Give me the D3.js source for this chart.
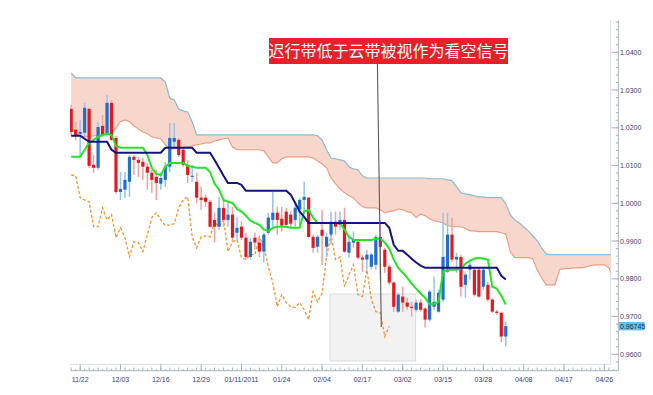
<!DOCTYPE html>
<html><head><meta charset="utf-8">
<script src="https://cdn.jsdelivr.net/npm/d3@7"></script>
<style>html,body{margin:0;padding:0;background:#fff;} svg{display:block;}</style>
</head><body>
<svg id="chart" width="653" height="395"></svg>
<script>
// ---------- DATA ----------
const openP = [
1.0250,1.0195,1.0184,1.0187,1.0250,1.0102,1.0094,1.0205,1.0181,1.0266,
1.0173,1.0030,1.0036,1.0057,1.0123,1.0115,1.0110,1.0097,1.0081,1.0070,
1.0052,1.0062,1.0097,1.0163,1.0168,1.0142,1.0102,1.0070,1.0057,1.0015,
1.0015,1.0004,0.9956,0.9938,0.9988,0.9956,0.9970,0.9922,0.9938,0.9909,
0.9858,0.9909,0.9896,0.9872,0.9922,0.9956,0.9975,0.9959,0.9978,0.9970,
0.9956,0.9983,1.0009,1.0015,0.9911,0.9885,0.9930,0.9885,0.9917,0.9951,
0.9943,0.9956,0.9869,0.9896,0.9898,0.9856,0.9851,0.9832,0.9837,0.9911,
0.9877,0.9832,0.9790,0.9713,0.9753,0.9737,0.9726,0.9718,0.9737,0.9721,
0.9692,0.9726,0.9713,0.9745,0.9819,0.9917,0.9851,0.9858,0.9784,0.9824,
0.9824,0.9824,0.9779,0.9784,0.9745,0.9713,0.9710,0.9647];
const highP = [
1.0261,1.0216,1.0221,1.0266,1.0253,1.0128,1.0216,1.0234,1.0287,1.0274,
1.0179,1.0083,1.0083,1.0128,1.0128,1.0123,1.0120,1.0107,1.0089,1.0089,
1.0081,1.0110,1.0213,1.0213,1.0173,1.0147,1.0115,1.0102,1.0081,1.0044,
1.0023,1.0009,0.9975,1.0017,1.0009,1.0001,0.9991,0.9964,0.9951,0.9922,
0.9909,0.9922,0.9911,0.9922,0.9975,1.0030,0.9991,0.9991,0.9988,0.9978,
1.0001,1.0015,1.0057,1.0017,0.9917,0.9917,0.9983,0.9922,0.9978,0.9978,
0.9978,0.9988,0.9911,0.9925,0.9903,0.9864,0.9877,0.9869,0.9917,0.9956,
0.9882,0.9837,0.9793,0.9763,0.9779,0.9750,0.9739,0.9745,0.9745,0.9724,
0.9771,0.9806,0.9771,0.9975,0.9975,0.9962,0.9869,0.9864,0.9816,0.9845,
0.9829,0.9829,0.9829,0.9792,0.9750,0.9718,0.9713,0.9686];
const lowP = [
1.0179,1.0168,1.0123,1.0176,1.0094,1.0081,1.0089,1.0176,1.0176,1.0165,
1.0025,1.0009,1.0015,1.0017,1.0075,1.0070,1.0062,1.0036,1.0028,1.0009,
1.0036,1.0044,1.0083,1.0149,1.0123,1.0097,1.0054,1.0057,1.0001,0.9983,
0.9991,0.9935,0.9896,0.9930,0.9938,0.9938,0.9898,0.9903,0.9903,0.9851,
0.9851,0.9877,0.9858,0.9843,0.9917,0.9930,0.9917,0.9925,0.9935,0.9935,
0.9938,0.9943,0.9975,0.9909,0.9869,0.9869,0.9837,0.9858,0.9890,0.9917,
0.9930,0.9869,0.9856,0.9882,0.9851,0.9819,0.9824,0.9824,0.9824,0.9798,
0.9816,0.9784,0.9713,0.9710,0.9713,0.9718,0.9700,0.9713,0.9713,0.9671,
0.9687,0.9718,0.9710,0.9739,0.9816,0.9845,0.9816,0.9753,0.9750,0.9798,
0.9753,0.9750,0.9771,0.9739,0.9710,0.9705,0.9631,0.9620];
const closeP = [
1.0189,1.0181,1.0189,1.0253,1.0099,1.0094,1.0202,1.0181,1.0266,1.0168,
1.0030,1.0038,1.0062,1.0123,1.0115,1.0107,1.0097,1.0081,1.0062,1.0054,
1.0067,1.0097,1.0173,1.0173,1.0128,1.0102,1.0075,1.0073,1.0015,1.0009,
1.0004,0.9938,0.9938,0.9988,0.9956,0.9970,0.9909,0.9935,0.9909,0.9858,
0.9898,0.9896,0.9872,0.9917,0.9962,0.9975,0.9956,0.9941,0.9943,0.9946,
0.9988,1.0009,1.0017,0.9911,0.9882,0.9911,0.9914,0.9911,0.9951,0.9938,
0.9956,0.9872,0.9898,0.9903,0.9856,0.9851,0.9864,0.9864,0.9911,0.9885,
0.9832,0.9790,0.9726,0.9758,0.9737,0.9726,0.9724,0.9737,0.9718,0.9692,
0.9766,0.9739,0.9763,0.9858,0.9917,0.9851,0.9858,0.9779,0.9811,0.9837,
0.9758,0.9753,0.9824,0.9745,0.9713,0.9710,0.9647,0.96745];
const tenkan = [
1.0123,1.0123,1.0123,1.0142,1.0160,1.0168,1.0176,1.0181,1.0184,1.0181,
1.0152,1.0147,1.0147,1.0147,1.0147,1.0147,1.0147,1.0128,1.0094,1.0078,
1.0075,1.0097,1.0107,1.0107,1.0107,1.0107,1.0099,1.0097,1.0094,1.0094,
1.0094,1.0083,1.0052,1.0036,1.0009,1.0004,1.0001,0.9985,0.9978,0.9967,
0.9954,0.9948,0.9943,0.9930,0.9927,0.9935,0.9938,0.9938,0.9938,0.9935,
0.9935,0.9935,0.9978,0.9983,0.9962,0.9948,0.9948,0.9948,0.9948,0.9948,
0.9948,0.9930,0.9911,0.9903,0.9903,0.9903,0.9903,0.9903,0.9906,0.9906,
0.9896,0.9880,0.9851,0.9829,0.9816,0.9803,0.9787,0.9774,0.9761,0.9750,
0.9732,0.9734,0.9739,0.9819,0.9824,0.9824,0.9824,0.9827,0.9840,0.9848,
0.9853,0.9856,0.9853,0.9851,0.9779,0.9774,0.9755,0.9732];
const kijun = [
1.0179,1.0179,1.0179,1.0171,1.0163,1.0163,1.0163,1.0163,1.0163,1.0142,
1.0134,1.0134,1.0134,1.0134,1.0134,1.0134,1.0134,1.0134,1.0134,1.0134,
1.0134,1.0147,1.0147,1.0147,1.0147,1.0147,1.0147,1.0147,1.0134,1.0134,
1.0134,1.0134,1.0115,1.0094,1.0073,1.0054,1.0054,1.0054,1.0049,1.0033,
1.0033,1.0033,1.0033,1.0033,1.0033,1.0033,1.0033,1.0033,1.0033,1.0023,
1.0001,0.9978,0.9964,0.9948,0.9948,0.9948,0.9948,0.9948,0.9948,0.9948,
0.9948,0.9948,0.9948,0.9948,0.9948,0.9948,0.9948,0.9948,0.9948,0.9948,
0.9948,0.9935,0.9890,0.9874,0.9874,0.9864,0.9853,0.9843,0.9835,0.9829,
0.9829,0.9829,0.9829,0.9829,0.9829,0.9829,0.9829,0.9829,0.9829,0.9829,
0.9829,0.9829,0.9829,0.9829,0.9829,0.9829,0.9808,0.9798];
const senkouA = [
1.0194,1.0184,1.0179,1.0176,1.0176,1.0179,1.0179,1.0181,1.0181,1.0187,
1.0200,1.0216,1.0221,1.0216,1.0205,1.0197,1.0189,1.0184,1.0176,1.0173,
1.0171,1.0155,1.0144,1.0144,1.0147,1.0149,1.0149,1.0152,1.0155,1.0157,
1.0160,1.0160,1.0165,1.0168,1.0171,1.0173,1.0149,1.0142,1.0142,1.0142,
1.0142,1.0142,1.0142,1.0139,1.0123,1.0107,1.0107,1.0118,1.0123,1.0123,
1.0123,1.0123,1.0123,1.0123,1.0120,1.0112,1.0104,1.0094,1.0067,1.0052,
1.0038,1.0028,1.0020,1.0015,1.0001,0.9991,0.9988,0.9988,0.9988,0.9983,
0.9975,0.9978,0.9980,0.9985,0.9983,0.9978,0.9975,0.9962,0.9972,0.9967,
0.9959,0.9954,0.9951,0.9948,0.9941,0.9938,0.9938,0.9938,0.9933,0.9927,
0.9927,0.9925,0.9925,0.9925,0.9925,0.9925,0.9922,0.9919,0.9872,0.9856,
0.9856,0.9856,0.9856,0.9853,0.9824,0.9803,0.9784,0.9784,0.9784,0.9824,
0.9827,0.9827,0.9829,0.9829,0.9829,0.9832,0.9835,0.9837,0.9837,0.9837,
0.9829,0.9803,0.9798];
const senkouB = [
1.0345,1.0332,1.0332,1.0332,1.0332,1.0332,1.0332,1.0332,1.0332,1.0332,
1.0332,1.0332,1.0332,1.0332,1.0332,1.0332,1.0332,1.0332,1.0332,1.0332,
1.0332,1.0321,1.0279,1.0274,1.0250,1.0245,1.0242,1.0216,1.0181,1.0181,
1.0181,1.0181,1.0181,1.0181,1.0181,1.0181,1.0181,1.0181,1.0181,1.0181,
1.0181,1.0181,1.0181,1.0181,1.0181,1.0181,1.0181,1.0181,1.0181,1.0181,
1.0181,1.0181,1.0181,1.0181,1.0181,1.0179,1.0168,1.0142,1.0120,1.0118,
1.0115,1.0112,1.0097,1.0091,1.0089,1.0073,1.0067,1.0067,1.0067,1.0067,
1.0067,1.0067,1.0067,1.0067,1.0067,1.0067,1.0067,1.0067,1.0067,1.0067,
1.0065,1.0065,1.0065,1.0065,1.0062,1.0060,1.0044,1.0028,1.0025,1.0023,
1.0020,1.0017,1.0017,1.0015,1.0015,1.0015,1.0015,0.9999,0.9970,0.9956,
0.9948,0.9938,0.9927,0.9914,0.9901,0.9882,0.9866,0.9864,0.9864,0.9864,
0.9864,0.9864,0.9864,0.9864,0.9864,0.9864,0.9864,0.9864,0.9864,0.9864,
0.9864,0.9864,0.9864];
const chikouShift = 26;
const xTickLabels = ["11/22","12/03","12/16","12/29","01/11/2011","01/24","02/04","02/17","03/02","03/15","03/28","04/08","04/17","04/26"];
const xTickIndex = [2,11,20,29,38,47,56,65,74,83,92,101,110,119];
const yTickValues = [0.96,0.97,0.98,0.99,1.00,1.01,1.02,1.03,1.04];
const lastPrice = 0.96745;
const titleText = "迟行带低于云带被视作为看空信号";

// ---------- LAYOUT ----------
const svg = d3.select("#chart");
const plotL = 70, plotR = 610.7, plotT = 18, plotB = 364.3;
const axisX = 618.3, axisY = 370.7;
const x = d3.scaleLinear().domain([0, 121]).range([71.2, 71.2 + 121 * 4.48]);
const y = d3.scaleLinear().domain([0.96, 1.04]).range([354.3, 52.3]);
const fontAxis = "'Liberation Sans', Arial, sans-serif";

svg.append("defs").append("clipPath").attr("id", "clip")
  .append("rect").attr("x", plotL).attr("y", plotT)
  .attr("width", plotR - plotL).attr("height", plotB - plotT);

// plot frame (right & bottom)
svg.append("line").attr("x1", plotR).attr("x2", plotR).attr("y1", 20).attr("y2", plotB)
  .attr("stroke", "#d9dee6").attr("stroke-width", 1);
svg.append("line").attr("x1", plotL).attr("x2", plotR).attr("y1", plotB).attr("y2", plotB)
  .attr("stroke", "#d9dee6").attr("stroke-width", 1);

const g = svg.append("g").attr("clip-path", "url(#clip)");

// cloud
const cloudIdx = d3.range(senkouA.length);
g.append("path").datum(cloudIdx)
  .attr("d", d3.area().x(i => x(i)).y0(i => y(senkouA[i])).y1(i => y(senkouB[i])))
  .attr("fill", "#f7d6cb");
g.append("path").datum(cloudIdx)
  .attr("d", d3.line().x(i => x(i)).y(i => y(senkouA[i])))
  .attr("fill", "none").attr("stroke", "#ef9a7c").attr("stroke-width", 1.1);
g.append("path").datum(cloudIdx)
  .attr("d", d3.line().x(i => x(i)).y(i => y(senkouB[i])))
  .attr("fill", "none").attr("stroke", "#86bcd9").attr("stroke-width", 1.2);

// highlighted area
g.append("rect").attr("x", 330).attr("y", 294).attr("width", 85.7).attr("height", 67)
  .attr("fill", "#f2f2f2").attr("stroke", "#d4d4d4").attr("stroke-width", 0.8);

// chikou span (close plotted 26 periods back)
const chikouIdx = d3.range(closeP.length - chikouShift);
g.append("path").datum(chikouIdx)
  .attr("d", d3.line().x(i => x(i)).y(i => y(closeP[i + chikouShift])))
  .attr("fill", "none").attr("stroke", "#f7942e").attr("stroke-width", 1.3)
  .attr("stroke-dasharray", "3,2");

// candles
const idx = d3.range(openP.length);
const candles = g.append("g");
candles.selectAll("line.wick").data(idx).join("line")
  .attr("x1", i => x(i)).attr("x2", i => x(i))
  .attr("y1", i => y(highP[i])).attr("y2", i => y(lowP[i]))
  .attr("stroke", i => closeP[i] >= openP[i] ? "#97c3ec" : "#f3a0a0")
  .attr("stroke-width", 1.5);
candles.selectAll("rect.body").data(idx).join("rect")
  .attr("x", i => x(i) - 1.6).attr("width", 3.2)
  .attr("y", i => y(Math.max(openP[i], closeP[i])))
  .attr("height", i => Math.max(1.2, Math.abs(y(openP[i]) - y(closeP[i]))))
  .attr("fill", i => closeP[i] >= openP[i] ? "#1f6fcc" : "#e3191f");

// tenkan & kijun
g.append("path").datum(idx)
  .attr("d", d3.line().x(i => x(i)).y(i => y(tenkan[i])))
  .attr("fill", "none").attr("stroke", "#22e522").attr("stroke-width", 2);
g.append("path").datum(idx)
  .attr("d", d3.line().x(i => x(i)).y(i => y(kijun[i])))
  .attr("fill", "none").attr("stroke", "#14147e").attr("stroke-width", 2);

// annotation
svg.append("line").attr("x1", 377.4).attr("y1", 64).attr("x2", 381.3).attr("y2", 327)
  .attr("stroke", "#5a5a5a").attr("stroke-width", 1.1);
svg.append("rect").attr("x", 269).attr("y", 38).attr("width", 239).attr("height", 26)
  .attr("fill", "#e8202a");
svg.append("text").attr("x", 388.5).attr("y", 51).attr("dy", "0.36em")
  .attr("text-anchor", "middle").attr("fill", "#ffffff")
  .attr("font-family", "'Noto Sans CJK SC', sans-serif").attr("font-size", 16)
  .text(titleText);

// y axis (right)
const ya = svg.append("g");
ya.append("line").attr("x1", axisX).attr("x2", axisX).attr("y1", 20).attr("y2", axisY)
  .attr("stroke", "#a9b2bf").attr("stroke-width", 1);
const minorY = d3.range(0, 46).map(k => 0.958 + k * 0.002).filter(v => y(v) > 20 && y(v) < plotB);
ya.selectAll("line.mn").data(minorY).join("line")
  .attr("x1", axisX - 2.5).attr("x2", axisX).attr("y1", v => y(v)).attr("y2", v => y(v))
  .attr("stroke", "#a9b2bf");
ya.selectAll("line.mj").data(yTickValues).join("line")
  .attr("x1", axisX - 6.8).attr("x2", axisX).attr("y1", v => y(v)).attr("y2", v => y(v))
  .attr("stroke", "#a9b2bf");
ya.selectAll("text").data(yTickValues).join("text")
  .attr("x", 620).attr("y", v => y(v)).attr("dy", "0.35em")
  .attr("font-family", fontAxis).attr("font-size", 7).attr("fill", "#3d3d72")
  .text(d3.format(".4f"));

// last price marker
ya.append("rect").attr("x", 619).attr("y", y(lastPrice) - 4.2).attr("width", 25.5).attr("height", 8.4)
  .attr("fill", "#58c6f4");
ya.append("text").attr("x", 620).attr("y", y(lastPrice)).attr("dy", "0.35em")
  .attr("font-family", fontAxis).attr("font-size", 7).attr("fill", "#1d2a50")
  .text(d3.format(".5f")(lastPrice));

// x axis (bottom)
const xa = svg.append("g");
xa.append("line").attr("x1", 70.7).attr("x2", axisX).attr("y1", axisY).attr("y2", axisY)
  .attr("stroke", "#a9b2bf").attr("stroke-width", 1);
const minorX = d3.range(0, 122);
xa.selectAll("line.mn").data(minorX).join("line")
  .attr("x1", i => x(i)).attr("x2", i => x(i))
  .attr("y1", i => axisY - (i % 2 === 0 ? 3.2 : 1.8)).attr("y2", axisY)
  .attr("stroke", "#a9b2bf");
xa.selectAll("line.mj").data(xTickIndex).join("line")
  .attr("x1", i => x(i)).attr("x2", i => x(i)).attr("y1", axisY - 6.5).attr("y2", axisY)
  .attr("stroke", "#a9b2bf");
xa.selectAll("text").data(xTickLabels).join("text")
  .attr("x", (d, k) => x(xTickIndex[k])).attr("y", 379.5).attr("dy", "0.35em")
  .attr("text-anchor", "middle")
  .attr("font-family", fontAxis).attr("font-size", 7).attr("fill", "#3d3d72")
  .text(d => d);
</script>
</body></html>
